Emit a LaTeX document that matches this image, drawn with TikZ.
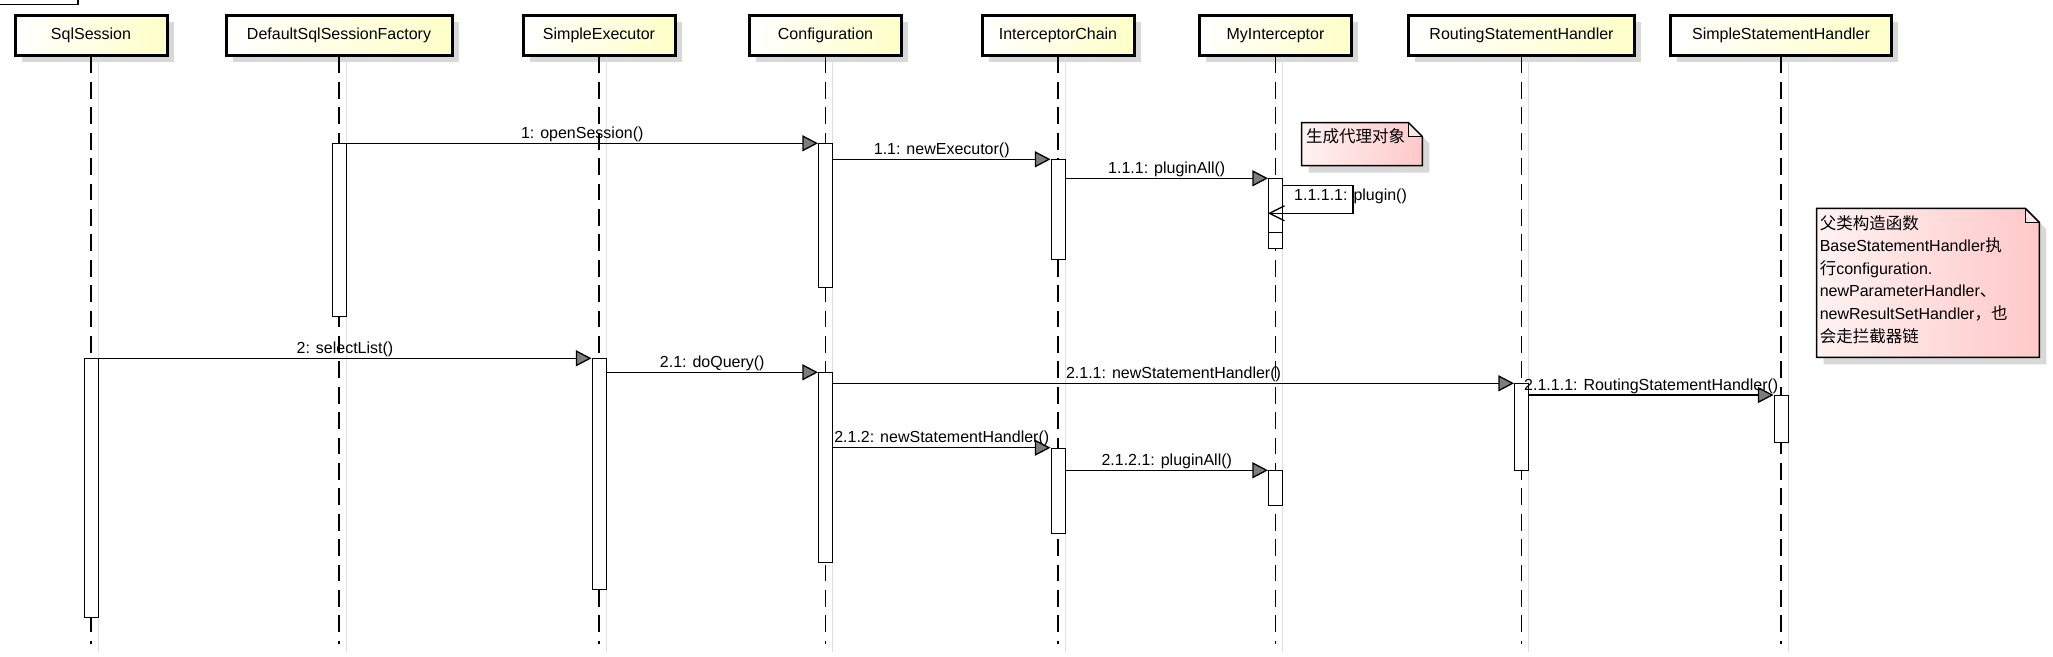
\documentclass[tikz,border=0pt]{standalone}
\usepackage{fontspec}
\setmainfont{Liberation Sans}
\newfontfamily\zhfont{Noto Sans CJK SC}
\usepackage{tikz}
\usetikzlibrary{arrows.meta, shadows}
\definecolor{headyellow}{RGB}{255,255,200}
\definecolor{shadowgray}{RGB}{216,216,216}
\definecolor{lifegray}{RGB}{222,222,222}
\definecolor{arrowgray}{RGB}{125,125,125}
\definecolor{notelight}{RGB}{255,242,242}
\definecolor{notepink}{RGB}{255,200,200}
\definecolor{foldpink}{RGB}{255,230,230}
\newcommand{\zh}[1]{{\zhfont\fontsize{16.5}{22.6}\selectfont #1}}
% note with folded corner: x0, y0, x1, y1
\newcommand{\drawnote}[4]{%
    \fill[shadowgray] (#1+7,#2+7) -- (#3-7,#2+7) -- (#3+7,#2+21) -- (#3+7,#4+7) -- (#1+7,#4+7) -- cycle;
    \shade[left color=notelight, right color=notepink] (#1,#2) -- (#3-14,#2) -- (#3,#2+14) -- (#3,#4) -- (#1,#4) -- cycle;
    \filldraw[fill=foldpink, line width=1.3pt] (#3-14,#2) -- (#3-14,#2+14) -- (#3,#2+14);
    \draw[line width=1.5pt, line join=miter] (#1,#2) -- (#3-14,#2) -- (#3,#2+14) -- (#3,#4) -- (#1,#4) -- cycle;
}

\begin{document}
\begin{tikzpicture}[
            x=1pt, y=-1pt,
            font=\fontsize{16}{19}\selectfont,
                head/.style = {rectangle, draw=black, line width=3pt,
                            left color=white, right color=headyellow,
                            minimum height=39.7, text centered,
                            drop shadow={shadow xshift=6.5pt, shadow yshift=-6.5pt,
                            fill=shadowgray, opacity=1}},
                act/.style = {rectangle, draw=black, fill=white, line width=1pt,
                            minimum width=14, inner sep=0pt, anchor=north},
                lifeline/.style = {line width=1.8pt, dash pattern=on 16.7pt off 8.7pt},
                lifeshade/.style = {line width=1pt, draw=lifegray},
                msg/.style = {line width=1.3pt,
                            -{Triangle[length=15.6pt, width=16pt, fill=arrowgray]}},
                selfmsg/.style = {line width=1.3pt,
                            -{Straight Barb[length=15pt, width=15pt]}},
                lbl/.style = {above, midway, inner sep=1pt},
                notetext/.style = {inner sep=2pt, align=left,
                            font=\fontsize{16}{22.6}\selectfont}]
            \fill[white] (0,0) rectangle (2053,656);
            \useasboundingbox (0,0) rectangle (2053,656);
            \draw[line width=1.3pt] (0,4.5) -- (78,4.5) -- (78,0);

            % lifeline heads
            \node (sqlSession) [head, minimum width=152] at (91,35.3) {SqlSession};
            \node (sqlFactory) [head, minimum width=226] at (339,35.3) {DefaultSqlSessionFactory};
            \node (simpleExec) [head, minimum width=152] at (599,35.3) {SimpleExecutor};
            \node (config) [head, minimum width=152] at (825.5,35.3) {Configuration};
            \node (chain) [head, minimum width=152] at (1058,35.3) {InterceptorChain};
            \node (myPlugin) [head, minimum width=152] at (1275.5,35.3) {MyInterceptor};
            \node (routingHandler) [head, minimum width=226] at (1521.5,35.3) {RoutingStatementHandler};
            \node (simpleHandler) [head, minimum width=221] at (1781,35.3) {SimpleStatementHandler};

            \foreach \h in {sqlSession, sqlFactory, simpleExec, config, chain, myPlugin, routingHandler, simpleHandler} {
                \draw[lifeshade] ([xshift=7pt]\h.south) -- ++(0,595);
                \draw[lifeline] (\h.south) -- ++(0,587);
            }

            % notes
            \drawnote{1301.7}{122.5}{1422.3}{165.7}
            \node (proxyNote) [notetext, anchor=west] at (1304,136.7) {\zh{生成代理对象}};
            \drawnote{1816.7}{208.3}{2039.3}{357.3}
            \node (superNote) [notetext, anchor=base west] at (1817.6,342.1) {%
                \zh{父类构造函数}\\
                BaseStatementHandler\zh{执}\\
                \zh{行}configuration.\\
                newParameterHandler\zh{、}\\
                newResultSetHandler\zh{，也}\\
                \zh{会走拦截器链}};

            % activations
            \node (factoryAct) [act, minimum height=172.8] at (sqlFactory.south |- 0,142.7) {};
            \node (configAct) [act, minimum height=143.7] at (config.south |- 0,143.3) {};
            \node (chainAct) [act, minimum height=99.7] at (chain.south |- 0,159.3) {};
            \node (pluginAct) [act, minimum height=69.4] at (myPlugin.south |- 0,178.3) {};
            \node (pluginNest) [act, minimum height=18.4] at (myPlugin.south |- 0,213.3) {};
            \node (sessionAct) [act, minimum height=259] at (sqlSession.south |- 0,358.3) {};
            \node (execAct) [act, minimum height=231] at (simpleExec.south |- 0,358.3) {};
            \node (configAct2) [act, minimum height=189.4] at (config.south |- 0,372.3) {};
            \node (routingAct) [act, minimum height=86.7] at (routingHandler.south |- 0,383.3) {};
            \node (simpleAct) [act, minimum height=47.3] at (simpleHandler.south |- 0,395) {};
            \node (chainAct2) [act, minimum height=85.6] at (chain.south |- 0,447.7) {};
            \node (pluginAct2) [act, minimum height=35] at (myPlugin.south |- 0,470.3) {};

            % messages
            \draw[msg] (configAct.north west -| factoryAct.east) -- (configAct.north west)
                node[lbl] {1: openSession()};
            \draw[msg] (chainAct.north west -| configAct.east) -- (chainAct.north west)
                node[lbl] {1.1: newExecutor()};
            \draw[msg] (pluginAct.north west -| chainAct.east) -- (pluginAct.north west)
                node[lbl] {1.1.1: pluginAll()};
            \draw[selfmsg] ([yshift=-7.4pt]pluginAct.north east) -- ++(70,0) |- (pluginNest.north west);
            \node (selfLbl) [inner sep=1pt, anchor=west] at (1293,196.7) {1.1.1.1: plugin()};
            \draw[msg] (execAct.north west -| sessionAct.east) -- (execAct.north west)
                node[lbl] {2: selectList()};
            \draw[msg] (configAct2.north west -| execAct.east) -- (configAct2.north west)
                node[lbl] {2.1: doQuery()};
            \draw[msg] (routingAct.north west -| configAct2.east) -- (routingAct.north west)
                node[lbl] {2.1.1: newStatementHandler()};
            \draw[msg] (simpleAct.north west -| routingAct.east) -- (simpleAct.north west)
                node[lbl] {2.1.1.1: RoutingStatementHandler()};
            \draw[msg] (chainAct2.north west -| configAct2.east) -- (chainAct2.north west)
                node[lbl] {2.1.2: newStatementHandler()};
            \draw[msg] (pluginAct2.north west -| chainAct2.east) -- (pluginAct2.north west)
                node[lbl] {2.1.2.1: pluginAll()};
        \end{tikzpicture}
\end{document}
